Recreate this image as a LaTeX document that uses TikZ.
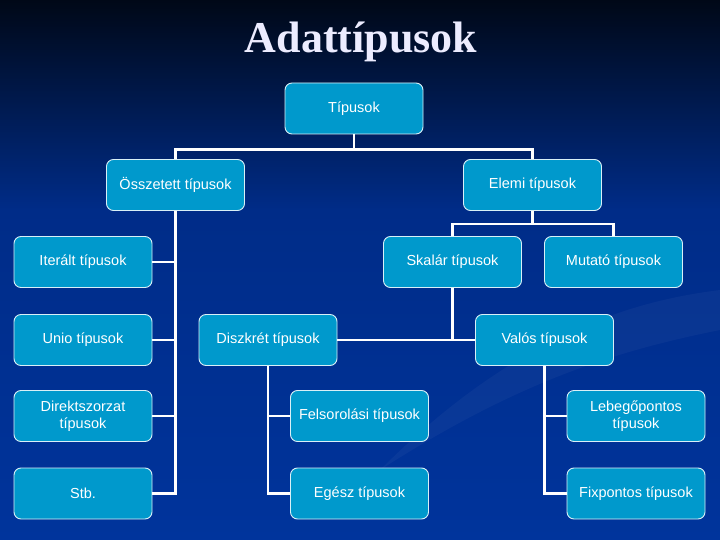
\documentclass[tikz,border=0pt]{standalone}
\usepackage{fontspec}
\setmainfont{Liberation Sans}
\newfontfamily\titlefont{Liberation Serif}
\usetikzlibrary{positioning,calc}
\definecolor{bgtop}{HTML}{000817}
\definecolor{bgmid}{HTML}{002C88}
\definecolor{bgbot}{HTML}{00349C}
\definecolor{boxfill}{HTML}{0099CC}
\definecolor{titlecol}{HTML}{ECECFF}
\begin{document}
\begin{tikzpicture}[x=1pt,y=-1pt,
    typebox/.style={draw=white!85!boxfill,line width=0.9pt,fill=boxfill,rounded corners=7pt,
      minimum width=138pt,minimum height=51pt,inner sep=2pt,align=center,text=white,
      font=\fontsize{14.5}{17}\selectfont},
    link/.style={draw=white,line width=2.6pt}]
    % background
    \useasboundingbox (0,0) rectangle (720,540);
    \shade[top color=bgtop,bottom color=bgmid] (0,0) rectangle (720,210);
    \shade[top color=bgmid,bottom color=bgbot] (0,210) rectangle (720,540);
    \fill[white,opacity=0.035] (380,470) .. controls (520,330) and (640,300) .. (720,290) -- (720,330) .. controls (620,350) and (520,380) .. (380,470) -- cycle;
    \node[font=\titlefont\bfseries\fontsize{44}{48}\selectfont,text=titlecol,anchor=base] (title) at (361,53) {Adattípusok};
    % boxes
    \node[typebox] (tip) at (354,108.5) {Típusok};
    \node[typebox] (ossz) at (175.5,185) {Összetett típusok};
    \node[typebox] (elemi) at (532.5,185) {Elemi típusok};
    \node[typebox] (iter) at (83,262) {Iterált típusok};
    \node[typebox] (skalar) at (452.5,262) {Skalár típusok};
    \node[typebox] (mutato) at (613.5,262) {Mutató típusok};
    \node[typebox] (unio) at (83,340) {Unio típusok};
    \node[typebox] (diszk) at (268,340) {Diszkrét típusok};
    \node[typebox] (valos) at (544.5,340) {Valós típusok};
    \node[typebox] (direkt) at (83,416) {Direktszorzat\\típusok};
    \node[typebox] (felsor) at (359.5,416) {Felsorolási típusok};
    \node[typebox] (lebego) at (636,416) {Lebegőpontos\\típusok};
    \node[typebox] (stb) at (83,493.5) {Stb.};
    \node[typebox] (egesz) at (359.5,493.5) {Egész típusok};
    \node[typebox] (fix) at (636,493.5) {Fixpontos típusok};
    % connectors
    \draw[link] (tip.south) -- ++(0,15) -| (ossz.north);
    \draw[link] (tip.south) -- ++(0,15) -| (elemi.north);
    \foreach \c in {iter,unio,direkt,stb}{\draw[link] (ossz.south) |- (\c.east);}
    \draw[link] (elemi.south) -- ++(0,13) -| (skalar.north);
    \draw[link] (elemi.south) -- ++(0,13) -| (mutato.north);
    \draw[link] (skalar.south) |- (diszk.east);
    \draw[link] (skalar.south) |- (valos.west);
    \foreach \c in {felsor,egesz}{\draw[link] (diszk.south) |- (\c.west);}
    \foreach \c in {lebego,fix}{\draw[link] (valos.south) |- (\c.west);}
  \end{tikzpicture}
\end{document}
